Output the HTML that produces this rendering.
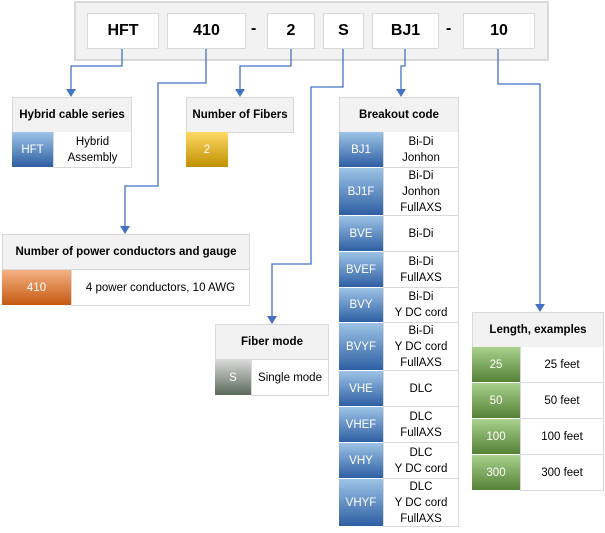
<!DOCTYPE html>
<html><head><meta charset="utf-8"><style>
body{margin:0;width:605px;height:533px;background:#fff;position:relative;font-family:"Liberation Sans",sans-serif;overflow:hidden}
div{position:absolute;box-sizing:border-box}
.cont{left:74px;top:1px;width:475px;height:60px;background:#f2f2f2;border:2px solid #d9d9d9}
.pb{top:13px;height:36px;background:#fff;border:1px solid #d9d9d9;font-weight:bold;font-size:16px;display:flex;align-items:center;justify-content:center}
.dash{top:20px;font-weight:bold;font-size:16px}
.hd{background:#f2f2f2;border:1px solid #d9d9d9;font-weight:bold;font-size:11.5px;display:flex;align-items:center;justify-content:center;text-align:center}
.c{color:#fff;font-size:11.5px;display:flex;align-items:center;justify-content:center;border-bottom:1px solid #fff}
.d{background:#fff;border:1px solid #d9d9d9;border-top:none;font-size:11.5px;display:flex;align-items:center;justify-content:center;text-align:center;line-height:16px}
.b{background:linear-gradient(#9dc3e6,#2e5fa3)}
svg{position:absolute;left:0;top:0}
</style></head><body>
<div class="cont"></div>
<div class="pb" style="left:87px;width:72px">HFT</div>
<div class="pb" style="left:167px;width:79px">410</div>
<div class="dash" style="left:251px">-</div>
<div class="pb" style="left:267px;width:48px">2</div>
<div class="pb" style="left:323px;width:41px">S</div>
<div class="pb" style="left:372px;width:67px">BJ1</div>
<div class="dash" style="left:446px">-</div>
<div class="pb" style="left:463px;width:72px">10</div>

<svg width="605" height="533"><g fill="none" stroke="#4472c4" stroke-width="1.3">
<polyline points="122,49 122,66 71,66 71,90"/>
<polyline points="206,49 206,83 158,83 158,186 125,186 125,227"/>
<polyline points="291,49 291,66 240,66 240,90"/>
<polyline points="343,49 343,87 311,87 311,264 272,264 272,317"/>
<polyline points="405,49 405,66 401,66 401,90"/>
<polyline points="498,49 498,84 540,84 540,305"/>
</g><g fill="#4472c4">
<polygon points="66,89 76,89 71,97"/><polygon points="120,226 130,226 125,234"/>
<polygon points="235,89 245,89 240,97"/><polygon points="267,316 277,316 272,324"/>
<polygon points="396,89 406,89 401,97"/><polygon points="535,304 545,304 540,312"/>
</g></svg>

<div class="hd" style="left:12px;top:97px;width:120px;height:36px">Hybrid cable series</div>
<div class="c b" style="left:12px;top:132px;width:41px;height:36px">HFT</div>
<div class="d" style="left:53px;top:132px;width:79px;height:36px">Hybrid<br>Assembly</div>

<div class="hd" style="left:186px;top:97px;width:108px;height:36px">Number of Fibers</div>
<div class="c" style="left:186px;top:132px;width:42px;height:36px;background:linear-gradient(#ffd966,#bf9000)">2</div>

<div class="hd" style="left:2px;top:234px;width:248px;height:36px">Number of power conductors and gauge</div>
<div class="c" style="left:2px;top:270px;width:69px;height:36px;background:linear-gradient(#f4b183,#c55a11)">410</div>
<div class="d" style="left:71px;top:270px;width:179px;height:36px">4 power conductors, 10 AWG</div>

<div class="hd" style="left:215px;top:324px;width:114px;height:36px">Fiber mode</div>
<div class="c" style="left:215px;top:360px;width:36px;height:36px;background:linear-gradient(#d9d9d9,#5a6a5a)">S</div>
<div class="d" style="left:251px;top:360px;width:78px;height:36px">Single mode</div>

<div class="hd" style="left:339px;top:97px;width:120px;height:36px">Breakout code</div>
<div class="c b" style="left:339px;top:132px;width:44px;height:36px">BJ1</div><div class="d" style="left:383px;top:132px;width:76px;height:36px">Bi-Di<br>Jonhon</div>
<div class="c b" style="left:339px;top:168px;width:44px;height:48px">BJ1F</div><div class="d" style="left:383px;top:168px;width:76px;height:48px">Bi-Di<br>Jonhon<br>FullAXS</div>
<div class="c b" style="left:339px;top:216px;width:44px;height:36px">BVE</div><div class="d" style="left:383px;top:216px;width:76px;height:36px">Bi-Di</div>
<div class="c b" style="left:339px;top:252px;width:44px;height:36px">BVEF</div><div class="d" style="left:383px;top:252px;width:76px;height:36px">Bi-Di<br>FullAXS</div>
<div class="c b" style="left:339px;top:288px;width:44px;height:35px">BVY</div><div class="d" style="left:383px;top:288px;width:76px;height:35px">Bi-Di<br>Y DC cord</div>
<div class="c b" style="left:339px;top:323px;width:44px;height:48px">BVYF</div><div class="d" style="left:383px;top:323px;width:76px;height:48px">Bi-Di<br>Y DC cord<br>FullAXS</div>
<div class="c b" style="left:339px;top:371px;width:44px;height:36px">VHE</div><div class="d" style="left:383px;top:371px;width:76px;height:36px">DLC</div>
<div class="c b" style="left:339px;top:407px;width:44px;height:36px">VHEF</div><div class="d" style="left:383px;top:407px;width:76px;height:36px">DLC<br>FullAXS</div>
<div class="c b" style="left:339px;top:443px;width:44px;height:36px">VHY</div><div class="d" style="left:383px;top:443px;width:76px;height:36px">DLC<br>Y DC cord</div>
<div class="c b" style="left:339px;top:479px;width:44px;height:48px">VHYF</div><div class="d" style="left:383px;top:479px;width:76px;height:48px">DLC<br>Y DC cord<br>FullAXS</div>

<div class="hd" style="left:472px;top:312px;width:132px;height:36px">Length, examples</div>
<div class="c" style="left:472px;top:347px;width:48px;height:36px;background:linear-gradient(#a9d18e,#548235)">25</div><div class="d" style="left:520px;top:347px;width:84px;height:36px">25 feet</div>
<div class="c" style="left:472px;top:383px;width:48px;height:36px;background:linear-gradient(#a9d18e,#548235)">50</div><div class="d" style="left:520px;top:383px;width:84px;height:36px">50 feet</div>
<div class="c" style="left:472px;top:419px;width:48px;height:36px;background:linear-gradient(#a9d18e,#548235)">100</div><div class="d" style="left:520px;top:419px;width:84px;height:36px">100 feet</div>
<div class="c" style="left:472px;top:455px;width:48px;height:36px;background:linear-gradient(#a9d18e,#548235)">300</div><div class="d" style="left:520px;top:455px;width:84px;height:36px">300 feet</div>
</body></html>
